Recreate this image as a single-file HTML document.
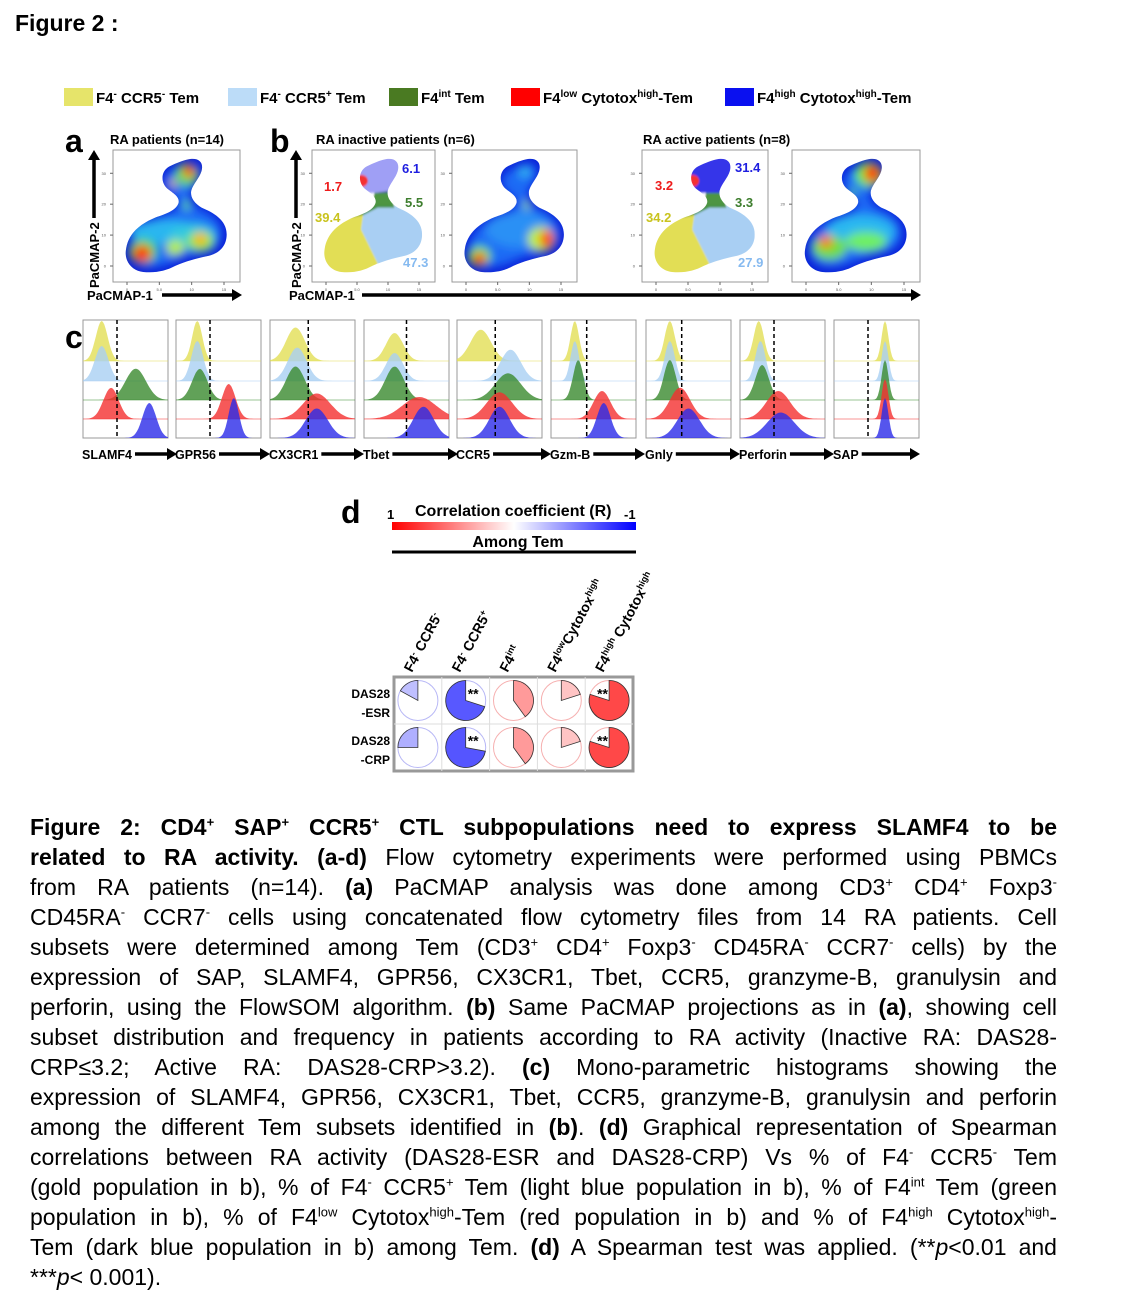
<!DOCTYPE html>
<html><head><meta charset="utf-8">
<style>
body{margin:0;background:#fff;width:1125px;height:1309px;overflow:hidden;font-family:"Liberation Sans",sans-serif;position:relative}
.t{position:absolute;white-space:nowrap}
.cap{position:absolute;left:30px;width:1027px;top:812px;font-size:23px;line-height:30px;color:#000}
.cap div{text-align:justify;text-align-last:justify;height:30px;white-space:nowrap}
.cap div.last{text-align-last:left}
sup{font-size:13px;line-height:0}
</style></head><body>
<div class="t" style="left:15px;top:10px;font-size:23px;font-weight:bold">Figure 2 :</div>
<svg id="fig" width="1125" height="800" style="position:absolute;left:0;top:0" font-family="Liberation Sans, sans-serif"></svg>
<div class="cap">
<div><b>Figure 2: CD4<sup>+</sup> SAP<sup>+</sup> CCR5<sup>+</sup> CTL subpopulations need to express SLAMF4 to be</b></div>
<div><b>related to RA activity. (a-d)</b> Flow cytometry experiments were performed using PBMCs</div>
<div>from RA patients (n=14). <b>(a)</b> PaCMAP analysis was done among CD3<sup>+</sup> CD4<sup>+</sup> Foxp3<sup>-</sup></div>
<div>CD45RA<sup>-</sup> CCR7<sup>-</sup> cells using concatenated flow cytometry files from 14 RA patients. Cell</div>
<div>subsets were determined among Tem (CD3<sup>+</sup> CD4<sup>+</sup> Foxp3<sup>-</sup> CD45RA<sup>-</sup> CCR7<sup>-</sup> cells) by the</div>
<div>expression of SAP, SLAMF4, GPR56, CX3CR1, Tbet, CCR5, granzyme-B, granulysin and</div>
<div>perforin, using the FlowSOM algorithm. <b>(b)</b> Same PaCMAP projections as in <b>(a)</b>, showing cell</div>
<div>subset distribution and frequency in patients according to RA activity (Inactive RA: DAS28-</div>
<div>CRP≤3.2; Active RA: DAS28-CRP&gt;3.2). <b>(c)</b> Mono-parametric histograms showing the</div>
<div>expression of SLAMF4, GPR56, CX3CR1, Tbet, CCR5, granzyme-B, granulysin and perforin</div>
<div>among the different Tem subsets identified in <b>(b)</b>. <b>(d)</b> Graphical representation of Spearman</div>
<div>correlations between RA activity (DAS28-ESR and DAS28-CRP) Vs % of F4<sup>-</sup> CCR5<sup>-</sup> Tem</div>
<div>(gold population in b), % of F4<sup>-</sup> CCR5<sup>+</sup> Tem (light blue population in b), % of F4<sup>int</sup> Tem (green</div>
<div>population in b), % of F4<sup>low</sup> Cytotox<sup>high</sup>-Tem (red population in b) and % of F4<sup>high</sup> Cytotox<sup>high</sup>-</div>
<div>Tem (dark blue population in b) among Tem. <b>(d)</b> A Spearman test was applied. (**<i>p</i>&lt;0.01 and</div>
<div class="last">***<i>p</i>&lt; 0.001).</div>
</div>
<script>
// ---- data ----
const subsetNames=["F4- CCR5- Tem","F4- CCR5+ Tem","F4int Tem","F4low Cytotoxhigh-Tem","F4high Cytotoxhigh-Tem"];
const subsetColors=["#e2de55","#a9cff3","#3a8a2e","#f43030","#2a2ae8"];
const markers=["SLAMF4","GPR56","CX3CR1","Tbet","CCR5","Gzm-B","Gnly","Perforin","SAP"];
const gatePos=[0.40,0.40,0.45,0.50,0.45,0.42,0.42,0.40,0.40];
const peakCenters=[[0.22,0.22,0.62,0.33,0.78],[0.25,0.25,0.28,0.62,0.68],[0.30,0.32,0.30,0.55,0.55],[0.36,0.36,0.36,0.65,0.70],[0.28,0.63,0.60,0.50,0.50],[0.28,0.28,0.32,0.60,0.62],[0.28,0.28,0.28,0.40,0.50],[0.22,0.24,0.26,0.45,0.48],[0.60,0.60,0.60,0.60,0.60]];
const peakWidths=[[0.07,0.08,0.12,0.09,0.08],[0.06,0.07,0.09,0.08,0.06],[0.11,0.11,0.11,0.16,0.13],[0.10,0.10,0.11,0.20,0.12],[0.12,0.12,0.15,0.15,0.12],[0.05,0.05,0.06,0.10,0.08],[0.06,0.06,0.07,0.12,0.13],[0.06,0.06,0.08,0.14,0.16],[0.04,0.04,0.04,0.04,0.04]];
const corrRows=["DAS28|-ESR","DAS28|-CRP"];
const corrESR=[-0.17,-0.70,0.40,0.20,0.80];
const corrCRP=[-0.25,-0.72,0.40,0.20,0.80];
const sigESR=["","**","","","**"];
const sigCRP=["","**","","","**"];
const freqInactive=["39.4","47.3","5.5","1.7","6.1"];
const freqActive=["34.2","27.9","3.3","3.2","31.4"];

const NS="http://www.w3.org/2000/svg";
const svg=document.getElementById('fig');
function el(tag,attrs,parent,name){const e=document.createElementNS(NS,tag);for(const k in attrs)e.setAttribute(k,attrs[k]);


(parent||svg).appendChild(e);return e;}
function txt(x,y,s,sz,opt,parent,name){const t=el('text',Object.assign({x:x,y:y,'font-size':sz},opt||{}),parent,name);t.textContent=s;return t;}

const defs=el('defs',{},svg,'defs');
defs.innerHTML='<filter id="bl" x="-30%" y="-30%" width="160%" height="160%"><feGaussianBlur stdDeviation="4"/></filter><filter id="bl2"><feGaussianBlur stdDeviation="0.8"/></filter>'+
'<linearGradient id="cg" x1="0" x2="1"><stop offset="0" stop-color="#ff0000"/><stop offset="0.5" stop-color="#ffffff"/><stop offset="1" stop-color="#0000ff"/></linearGradient>'+
'<path id="blob" d="M22,95 C12,94 5,86 7,76 C9,63 20,55 33,50 C43,47 51,44 53,38 C54,33 48,30 44,27 C37,22 37,12 45,8 C52,5 57,3 63,2 C71,1 75,5 73,12 C71,18 66,22 64,28 C63,33 66,38 73,42 C83,46 95,52 95,64 C95,74 88,80 78,82 C68,84 60,86 50,90 C42,94 33,96 22,95 Z"/>'+
'<clipPath id="cb"><use href="#blob"/></clipPath>';

// legend
const legX=[64,228,389,511,725];
const legLab=[['F4','-',' CCR5','-',' Tem'],['F4','-',' CCR5','+',' Tem'],['F4','int',' Tem','',''],['F4','low',' Cytotox','high','-Tem'],['F4','high',' Cytotox','high','-Tem']];
legLab.forEach((L,i)=>{
 const col=[ "#e6e46a","#bcdcf8","#4a7a22","#ff0000","#0a10f0"][i];
 el('rect',{x:legX[i],y:88,width:29,height:18,fill:col},svg,'legend-swatch');
 const t=el('text',{x:legX[i]+32,y:103,'font-size':15,'font-weight':'bold'},svg,'legend-entry');
 let h='<tspan>'+L[0]+'</tspan><tspan font-size="10" dy="-6">'+L[1]+'</tspan><tspan dy="6">'+L[2]+'</tspan>';
 if(L[3])h+='<tspan font-size="10" dy="-6">'+L[3]+'</tspan><tspan dy="6">'+L[4]+'</tspan>';
 t.innerHTML=h;
});

txt(65,152,'a',32,{'font-weight':'bold'},svg,'panel-label-a');
txt(270,152,'b',32,{'font-weight':'bold'},svg,'panel-label-b');
txt(65,348,'c',32,{'font-weight':'bold'},svg,'panel-label-c');
txt(341,523,'d',32,{'font-weight':'bold'},svg,'panel-label-d');
txt(110,144,'RA patients (n=14)',13,{'font-weight':'bold'},svg,'title-a');
txt(316,144,'RA inactive patients  (n=6)',13,{'font-weight':'bold'},svg,'title-inactive');
txt(643,144,'RA active patients (n=8)',13,{'font-weight':'bold'},svg,'title-active');

function arrowH(x1,x2,y,name){el('line',{x1:x1,y1:y,x2:x2-8,y2:y,stroke:'#000','stroke-width':3.5},svg,name);el('polygon',{points:`${x2-10},${y-6} ${x2},${y} ${x2-10},${y+6}`,fill:'#000'},svg,name+'-head');}
function arrowV(x,y1,y2,name){el('line',{x1:x,y1:y1,x2:x,y2:y2+8,stroke:'#000','stroke-width':3.5},svg,name);el('polygon',{points:`${x-6},${y2+10} ${x},${y2} ${x+6},${y2+10}`,fill:'#000'},svg,name+'-head');}
arrowV(94,218,150,'y-axis-arrow-a');arrowH(162,242,295,'x-axis-arrow-a');
arrowV(296,218,150,'y-axis-arrow-b');arrowH(362,921,295,'x-axis-arrow-b');
txt(99,288,'PaCMAP-2',13,{'font-weight':'bold',transform:'rotate(-90 99 288)'},svg,'y-axis-title-a');
txt(301,288,'PaCMAP-2',13,{'font-weight':'bold',transform:'rotate(-90 301 288)'},svg,'y-axis-title-b');
txt(87,300,'PaCMAP-1',13,{'font-weight':'bold'},svg,'x-axis-title-a');
txt(289,300,'PaCMAP-1',13,{'font-weight':'bold'},svg,'x-axis-title-b');

function box(x,y,w,h,name){
 el('rect',{x:x,y:y,width:w,height:h,fill:'#fff',stroke:'#999','stroke-width':1},svg,name);
 for(let i=0;i<4;i++){const yy=y+h-16-i*(h-30)/3.3;el('line',{x1:x-3,y1:yy,x2:x,y2:yy,stroke:'#666'},svg,'y-tick');txt(x-7,yy+1.5,['0','10','20','30'][i],4,{fill:'#555','text-anchor':'end'},svg,'y-tick-label');}
 for(let i=0;i<4;i++){const xx=x+14+i*(w-30)/3;el('line',{x1:xx,y1:y+h,x2:xx,y2:y+h+3,stroke:'#666'},svg,'x-tick');txt(xx,y+h+9,['0','5.0','10','15'][i],4,{fill:'#555','text-anchor':'middle'},svg,'x-tick-label');}
}
function density(x,y,w,h,spots,name){
 box(x,y,w,h,name+'-frame');
 const g=el('g',{transform:`translate(${x+w*0.04},${y+h*0.05}) scale(${w*0.9/100},${h*0.92/100})`},svg,name);
 el('use',{href:'#blob',fill:'#0a22d8'},g,'density-edge');
 const gi=el('g',{'clip-path':'url(#cb)'},g,'density-inner');
 const gf=el('g',{filter:'url(#bl)'},gi,'density-spots');
 el('use',{href:'#blob',fill:'#1e6af5',transform:'translate(50,50) scale(0.9) translate(-50,-50)'},gf,'density-body');
 spots.forEach(s=>el('ellipse',{cx:s[0],cy:s[1],rx:s[2],ry:s[3]||s[2],fill:s[4]},gf,'density-spot'));
}
const spotsA=[[40,62,30,10,'#2bb6f0'],[65,65,20,10,'#30c8e0'],[22,78,12,10,'#40e040'],[21,80,8,7,'#ff2a00'],[50,75,8,6,'#b8f030'],[72,70,12,8,'#80f040'],[72,68,6,5,'#ffb000'],[60,15,10,9,'#60e050'],[62,12,5,5,'#ff3000'],[48,22,3,3,'#f0c000'],[60,40,3,4,'#60e060']];
const spotsI=[[55,60,30,15,'#2a90f5'],[20,82,10,8,'#60f040'],[20,84,6,5,'#ff2000'],[75,68,12,10,'#c0f030'],[80,68,6,7,'#ff3000'],[60,12,6,5,'#30b0f0'],[62,40,3,3,'#a0f040']];
const spotsX=[[55,62,30,14,'#2ab8f0'],[28,75,15,10,'#70e040'],[25,70,6,5,'#ff7000'],[60,70,18,8,'#70f060'],[62,15,12,10,'#60f040'],[65,14,7,7,'#ff2000'],[48,30,3,3,'#60f060']];
density(113,150,127,132,spotsA,'density-plot-a');
density(452,150,125,132,spotsI,'density-plot-inactive');
density(792,150,128,132,spotsX,'density-plot-active');

function scatter(x,y,w,h,freqs,dense,labelPos,name){
 box(x,y,w,h,name+'-frame');
 const g=el('g',{transform:`translate(${x+w*0.04},${y+h*0.05}) scale(${w*0.9/100},${h*0.92/100})`},svg,name);
 const gi=el('g',{'clip-path':'url(#cb)',filter:'url(#bl2)'},g,'scatter-inner');
 el('rect',{x:0,y:0,width:100,height:100,fill:'#fff'},gi,'bg');
 el('polygon',{points:'0,100 0,48 42,46 40,60 55,88 48,100',fill:subsetColors[0]},gi,'scatter-f4-ccr5neg');
 el('polygon',{points:'42,46 55,40 100,40 100,100 55,100 55,88 40,60',fill:subsetColors[1]},gi,'scatter-f4-ccr5pos');
 el('polygon',{points:'30,50 50,40 52,30 66,28 70,42 55,42 42,48',fill:subsetColors[2],opacity:0.9},gi,'scatter-f4int');
 el('rect',{x:30,y:0,width:50,height:30,fill:subsetColors[4],opacity:dense?0.95:0.45},gi,'scatter-f4high');
 el('ellipse',{cx:40,cy:20,rx:6,ry:5,fill:subsetColors[3]},gi,'scatter-f4low');
 const cols=["#c9c31e","#86baf0","#3e7e2e","#ee1c1c","#1e1ee0"];
 freqs.forEach((f,i)=>txt(labelPos[i][0],labelPos[i][1],f,13,{fill:cols[i],'font-weight':'bold'},svg,'frequency-label'));
}
scatter(312,150,123,132,freqInactive,false,[[315,222],[403,267],[405,207],[324,191],[402,173]],'scatter-plot-inactive');
scatter(642,150,126,132,freqActive,true,[[646,222],[738,267],[735,207],[655,190],[735,172]],'scatter-plot-active');

// panel c histograms
const hx=[83,176,270,364,457,551,646,740,834], hw=85, htop=320, hbot=438;
const baselines=[361,381,400,419,438];
markers.forEach((m,mi)=>{
 const X=hx[mi];
 el('rect',{x:X,y:htop,width:hw,height:hbot-htop,fill:'#fff',stroke:'#999'},svg,'histogram-frame');
 baselines.slice(0,4).forEach((b,i)=>el('line',{x1:X,y1:b,x2:X+hw,y2:b,stroke:subsetColors[i],'stroke-width':1,opacity:0.5},svg,'row-baseline'));
 subsetColors.forEach((c,si)=>{
  const mu=peakCenters[mi][si], sd=peakWidths[mi][si], b=baselines[si];
  const amp=Math.min(40,40*0.07/Math.max(sd,0.06)*1.0+ (sd>0.1?8:0));
  let d=`M${X},${b}`;
  for(let k=0;k<=60;k++){const f=k/60;const v=Math.exp(-0.5*Math.pow((f-mu)/sd,2));d+=` L${(X+f*hw).toFixed(1)},${(b-amp*v).toFixed(1)}`;}
  d+=` L${X+hw},${b} Z`;
  el('path',{d:d,fill:c,opacity:0.8},svg,'histogram-'+m+'-subset-'+si);
 });
 const gx=X+gatePos[mi]*hw;
 el('line',{x1:gx,y1:htop,x2:gx,y2:hbot,stroke:'#000','stroke-width':1.5,'stroke-dasharray':'4,3'},svg,'gate-line');
 const t=txt(X-1,459,m,12.5,{'font-weight':'bold'},svg,'marker-label');
 let tw=m.length*8;try{tw=t.getComputedTextLength();}catch(e){}
 arrowH(X+tw+2,X+hw+(mi==8?1:9),454,'marker-arrow');
});

// panel d
txt(387,519,'1',13,{'font-weight':'bold'},svg,'colorbar-max-label');
txt(415,516,'Correlation coefficient (R)',16,{'font-weight':'bold'},svg,'colorbar-title');
txt(624,519,'-1',13,{'font-weight':'bold'},svg,'colorbar-min-label');
el('rect',{x:392,y:522,width:244,height:8,fill:'url(#cg)'},svg,'colorbar');
txt(518,547,'Among Tem',16,{'font-weight':'bold','text-anchor':'middle'},svg,'among-tem-label');
el('line',{x1:392,y1:552,x2:636,y2:552,stroke:'#000','stroke-width':3},svg,'among-tem-line');
const cx0=394, cw=47.8, gy=677, rh=47;
el('rect',{x:cx0,y:gy,width:cw*5,height:rh*2,fill:'#fff',stroke:'#999','stroke-width':3},svg,'correlation-grid');
for(let i=1;i<5;i++)el('line',{x1:cx0+i*cw,y1:gy,x2:cx0+i*cw,y2:gy+rh*2,stroke:'#ddd'},svg,'grid-line');
el('line',{x1:cx0,y1:gy+rh,x2:cx0+cw*5,y2:gy+rh,stroke:'#ddd'},svg,'grid-line');
const colLab=[['F4','-',' CCR5','-'],['F4','-',' CCR5','+'],['F4','int','',''],['F4','low','Cytotox','high'],['F4','high',' Cytotox','high']];
colLab.forEach((L,i)=>{
 const x=cx0+i*cw+cw/2-6, y=673;
 const t=el('text',{x:x,y:y,'font-size':14,'font-weight':'bold',transform:`rotate(-62 ${x} ${y})`},svg,'column-label');
 let h='<tspan>'+L[0]+'</tspan><tspan font-size="9" dy="-5">'+L[1]+'</tspan><tspan dy="5">'+L[2]+'</tspan>';
 if(L[3])h+='<tspan font-size="9" dy="-5">'+L[3]+'</tspan>';
 t.innerHTML=h;
});
corrRows.forEach((r,ri)=>{const p=r.split('|');const y=gy+ri*rh;
 txt(390,y+21,p[0],12,{'font-weight':'bold','text-anchor':'end'},svg,'row-label');
 txt(390,y+40,p[1],12,{'font-weight':'bold','text-anchor':'end'},svg,'row-label');});
function pie(cx,cy,r,v,sig){
 const pos=v>0, a=Math.abs(v);
 const inten=Math.round(255*(1-a*0.95));
 const fill=pos?`rgb(${255},${Math.round(inten*0.85+20)},${Math.round(inten*0.85+20)})`:`rgb(${Math.round(inten*0.8+20)},${Math.round(inten*0.8+20)},255)`;
 el('circle',{cx:cx,cy:cy,r:r,fill:'#fff',stroke:pos?'#f6b0b0':'#b8b8f6','stroke-width':1},svg,'pie-outline');
 const ang=a*2*Math.PI*(pos?1:-1);
 const ex=cx+r*Math.sin(ang), ey=cy-r*Math.cos(ang);
 const large=a>0.5?1:0, sweep=pos?1:0;
 el('path',{d:`M${cx},${cy} L${cx},${cy-r} A${r},${r} 0 ${large} ${sweep} ${ex.toFixed(2)},${ey.toFixed(2)} Z`,fill:fill,stroke:'#333','stroke-width':0.8},svg,'pie-wedge');
 if(sig)txt(pos?cx-12:cx+2,cy-2,sig,14,{'font-weight':'bold'},svg,'significance-stars');
}
[corrESR,corrCRP].forEach((vals,ri)=>vals.forEach((v,ci)=>pie(cx0+ci*cw+cw/2,gy+ri*rh+rh/2,20,v,(ri?sigCRP:sigESR)[ci])));
</script>
</body></html>
